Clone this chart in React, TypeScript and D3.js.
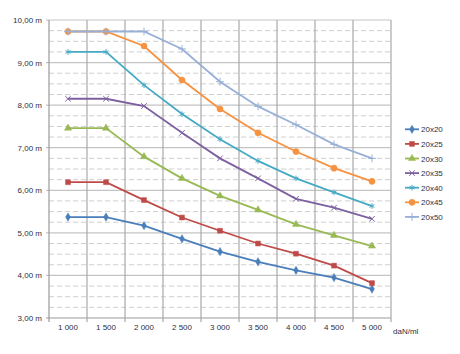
import React, { useEffect, useRef } from "react";
import * as d3 from "d3";

const categories = ["1 000", "1 500", "2 000", "2 500", "3 000", "3 500", "4 000", "4 500", "5 000"];
const seriesNames = ["20x20", "20x25", "20x30", "20x35", "20x40", "20x45", "20x50"];
const s20x20 = [5.37, 5.37, 5.17, 4.86, 4.56, 4.32, 4.12, 3.95, 3.68];
const s20x25 = [6.19, 6.19, 5.77, 5.36, 5.05, 4.75, 4.51, 4.23, 3.82];
const s20x30 = [7.46, 7.46, 6.79, 6.28, 5.87, 5.54, 5.2, 4.94, 4.69];
const s20x35 = [8.15, 8.15, 7.98, 7.35, 6.75, 6.28, 5.8, 5.59, 5.33];
const s20x40 = [9.25, 9.25, 8.47, 7.79, 7.2, 6.69, 6.28, 5.95, 5.63];
const s20x45 = [9.73, 9.73, 9.39, 8.59, 7.91, 7.35, 6.91, 6.52, 6.21];
const s20x50 = [9.73, 9.73, 9.73, 9.32, 8.55, 7.97, 7.54, 7.08, 6.75];
const yTicks = [3, 4, 5, 6, 7, 8, 9, 10];

const allSeries = [s20x20, s20x25, s20x30, s20x35, s20x40, s20x45, s20x50];
const colors = ["#4A7EBB", "#BE4B48", "#98B954", "#7D60A0", "#46AAC5", "#F69240", "#98B0D8"];
// marker type per series: filled d3 symbols or stroke symbols
const markers = [
  { type: d3.symbolDiamond, size: 20, fill: true },
  { type: d3.symbolSquare, size: 24, fill: true },
  { type: d3.symbolTriangle, size: 22, fill: true },
  { type: d3.symbolX, size: 22, fill: false },
  { type: d3.symbolAsterisk, size: 22, fill: false },
  { type: d3.symbolCircle, size: 30, fill: true },
  { type: d3.symbolPlus, size: 22, fill: false },
];

const width = 460;
const height = 354;
const left = 49;
const right = 391;
const top = 20;
const bottom = 318;
const font = "'Liberation Sans', Arial, sans-serif";
const textColor = "#2a2f45";

const App: React.FC = () => {
  const ref = useRef<SVGSVGElement>(null);

  useEffect(() => {
    const svg = d3.select(ref.current);
    svg.selectAll("*").remove();

    const x = d3.scaleBand<string>().domain(categories).range([left, right]);
    const y = d3.scaleLinear().domain([3, 10]).range([bottom, top]);

    // minor dashed grid every 0.25
    const minor = d3.range(3.25, 10, 0.25).filter((v) => Math.abs(v - Math.round(v)) > 0.01);
    svg
      .append("g")
      .selectAll("line")
      .data(minor)
      .join("line")
      .attr("x1", left)
      .attr("x2", right)
      .attr("y1", (d) => y(d))
      .attr("y2", (d) => y(d))
      .attr("stroke", "#cfcfcf")
      .attr("stroke-dasharray", "5,3");

    // major horizontal grid
    svg
      .append("g")
      .selectAll("line")
      .data(yTicks)
      .join("line")
      .attr("x1", left - 3)
      .attr("x2", right)
      .attr("y1", (d) => y(d))
      .attr("y2", (d) => y(d))
      .attr("stroke", (d) => (d === 3 ? "#9a9a9a" : "#c4c4c4"))
      .attr("stroke-width", 1.2);

    // vertical grid at band boundaries
    const bounds = categories.map((c) => x(c)!).concat([right]);
    svg
      .append("g")
      .selectAll("line")
      .data(bounds)
      .join("line")
      .attr("x1", (d) => d)
      .attr("x2", (d) => d)
      .attr("y1", top)
      .attr("y2", bottom + 4)
      .attr("stroke", (d, i) => (i === 0 ? "#9a9a9a" : "#a8a8a8"))
      .attr("stroke-width", 1.2);

    // y labels
    svg
      .append("g")
      .selectAll("text")
      .data(yTicks)
      .join("text")
      .attr("x", 42)
      .attr("y", (d) => y(d) + 3)
      .attr("text-anchor", "end")
      .attr("font-family", font)
      .attr("font-size", 8)
      .attr("fill", textColor)
      .text((d) => d3.format(".2f")(d).replace(".", ",") + " m");

    // x labels
    svg
      .append("g")
      .selectAll("text")
      .data(categories)
      .join("text")
      .attr("x", (d) => x(d)! + x.bandwidth() / 2)
      .attr("y", 330)
      .attr("text-anchor", "middle")
      .attr("font-family", font)
      .attr("font-size", 8)
      .attr("fill", textColor)
      .text((d) => d);

    svg
      .append("text")
      .attr("x", 393)
      .attr("y", 334)
      .attr("font-family", font)
      .attr("font-size", 8)
      .attr("fill", textColor)
      .text("daN/ml");

    const line = d3
      .line<number>()
      .x((d, i) => x(categories[i])! + x.bandwidth() / 2)
      .y((d) => y(d));

    const drawMarker = (g: d3.Selection<SVGGElement, unknown, null, undefined>, i: number, cx: number, cy: number) => {
      const m = markers[i];
      g.append("path")
        .attr("d", d3.symbol().type(m.type).size(m.size)())
        .attr("transform", `translate(${cx},${cy})`)
        .attr("fill", m.fill ? colors[i] : "none")
        .attr("stroke", colors[i])
        .attr("stroke-width", m.fill ? 0.5 : 1);
    };

    allSeries.forEach((values, i) => {
      const g = svg.append("g");
      g.append("path")
        .datum(values)
        .attr("d", line)
        .attr("fill", "none")
        .attr("stroke", colors[i])
        .attr("stroke-width", 1.8);
      values.forEach((v, j) => {
        drawMarker(g, i, x(categories[j])! + x.bandwidth() / 2, y(v));
      });
    });

    // legend
    seriesNames.forEach((name, i) => {
      const ly = 129.3 + i * 14.6;
      const g = svg.append("g");
      g.append("line")
        .attr("x1", 405)
        .attr("x2", 419)
        .attr("y1", ly)
        .attr("y2", ly)
        .attr("stroke", colors[i])
        .attr("stroke-width", 1.8);
      drawMarker(g, i, 412, ly);
      g.append("text")
        .attr("x", 421)
        .attr("y", ly + 3)
        .attr("font-family", font)
        .attr("font-size", 8)
        .attr("fill", textColor)
        .text(name);
    });
  }, []);

  return (
    <svg
      ref={ref}
      width={width}
      height={height}
      style={{ position: "absolute", left: 0, top: 0, background: "#fff" }}
    />
  );
};

export default App;
